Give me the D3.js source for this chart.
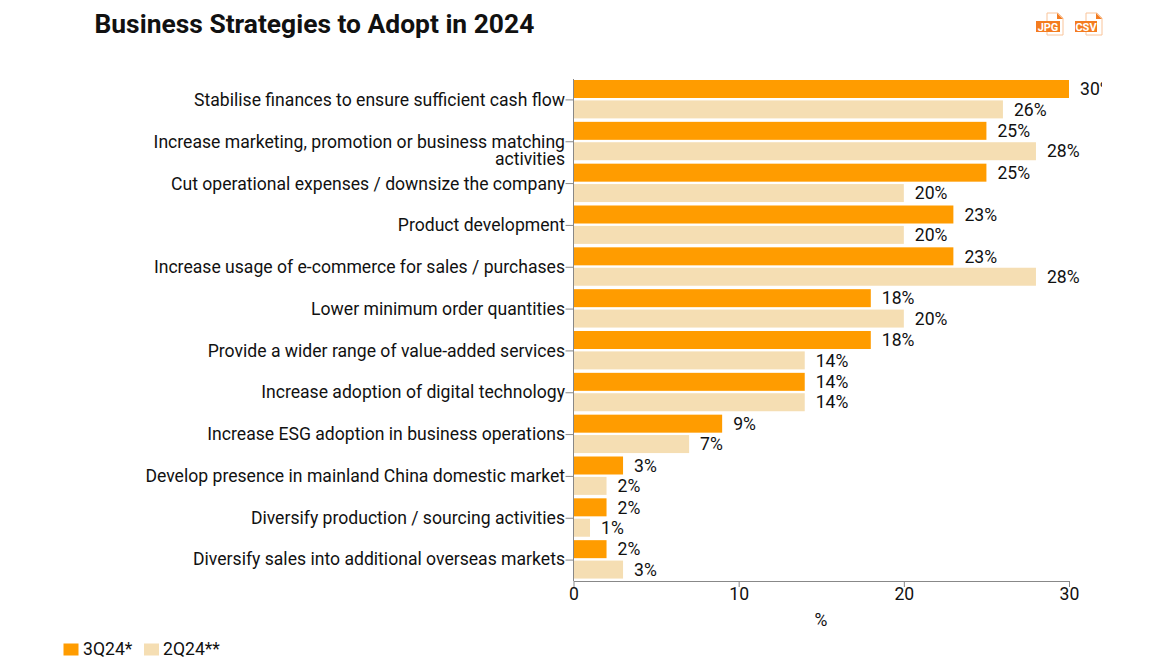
<!DOCTYPE html>
<html><head><meta charset="utf-8">
<script src="https://cdnjs.cloudflare.com/ajax/libs/d3/7.8.5/d3.min.js"></script>
<style>html,body{margin:0;padding:0;background:#fff}svg{display:block}text{font-family:Roboto,sans-serif;fill:#111}</style>
</head><body><div id="c"></div>
<script>
const categories=[["Stabilise finances to ensure sufficient cash flow"],["Increase marketing, promotion or business matching","activities"],["Cut operational expenses / downsize the company"],["Product development"],["Increase usage of e-commerce for sales / purchases"],["Lower minimum order quantities"],["Provide a wider range of value-added services"],["Increase adoption of digital technology"],["Increase ESG adoption in business operations"],["Develop presence in mainland China domestic market"],["Diversify production / sourcing activities"],["Diversify sales into additional overseas markets"]];
const series1=[30,25,25,23,23,18,18,14,9,3,2,2];
const series2=[26,28,20,20,28,20,14,14,7,2,1,3];
const seriesNames=["3Q24*","2Q24**"];
const colors=["#ff9c00","#f5deb3"];
const xTicks=[0,10,20,30];
const title="Business Strategies to Adopt in 2024";
const W=1161,H=667,FS=17.6;
const svg=d3.select("#c").append("svg").attr("width",W).attr("height",H);
svg.append("text").attr("x",94.5).attr("y",33).attr("font-size",26.4).attr("font-weight",700).text(title);

const x=d3.scaleLinear().domain([0,30]).range([573.5,1069]);
const y=d3.scaleBand().domain(d3.range(categories.length)).range([79,581]);
const barH=18;
const defs=svg.append("defs");
defs.append("clipPath").attr("id","clip").append("rect").attr("x",0).attr("y",0).attr("width",1102).attr("height",H);
const g=svg.append("g").attr("clip-path","url(#clip)");
[series1,series2].forEach((s,si)=>{
  const off=si===0?1:21.4;
  g.selectAll(".b"+si).data(s).join("rect")
    .attr("x",x(0)).attr("y",(d,i)=>y(i)+off).attr("width",d=>x(d)-x(0)).attr("height",barH).attr("fill",colors[si]);
  g.selectAll(".l"+si).data(s).join("text")
    .attr("x",d=>x(d)+11).attr("y",(d,i)=>y(i)+off+barH/2+6.2).attr("font-size",FS).text(d=>d+"%");
});
// y axis
const yAxis=svg.append("g");
yAxis.append("line").attr("x1",x(0)).attr("x2",x(0)).attr("y1",79).attr("y2",581).attr("stroke","#888");
categories.forEach((c,i)=>{
  const cy=y(i)+y.bandwidth()/2;
  yAxis.append("line").attr("x1",x(0)-8).attr("x2",x(0)).attr("y1",cy).attr("y2",cy).attr("stroke","#888");
  const t=yAxis.append("text").attr("text-anchor","end").attr("font-size",FS);
  const ly=cy+6.3-i*0.1;
  c.forEach((ln,j)=>t.append("tspan").attr("x",x(0)-8.5).attr("y",ly+j*17).text(ln));
});
// x axis
const xAxis=svg.append("g").attr("transform","translate(0,581)")
  .call(d3.axisBottom(x).tickValues(xTicks).tickSize(6).tickSizeOuter(0));
xAxis.selectAll("path,line").attr("stroke","#888");
xAxis.selectAll("text").attr("font-size",FS).attr("font-family","Roboto,sans-serif").attr("fill","#111").attr("dy","0.72em").attr("y",6.6);
svg.append("text").attr("x",821).attr("y",626).attr("text-anchor","middle").attr("font-size",FS).text("%");
// legend
const lx=[63.5,144],tx=[83,163];
seriesNames.forEach((n,i)=>{
  svg.append("rect").attr("x",lx[i]).attr("y",643.5).attr("width",15).attr("height",12).attr("fill",colors[i]);
  svg.append("text").attr("x",tx[i]).attr("y",655).attr("font-size",FS).text(n);
});
// icons
[["JPG",1036],["CSV",1075]].forEach(([n,ix])=>{
  const k=svg.append("g").attr("transform",`translate(${ix},12)`);
  k.append("path").attr("d","M11 1H22L27 6V23H11Z").attr("fill","#fff").attr("stroke","#f9c49a").attr("stroke-width",1);
  k.append("path").attr("d","M21 1L27 7H21Z").attr("fill","#f47c20");
  k.append("rect").attr("x",0).attr("y",9).attr("width",n==="JPG"?24:22).attr("height",11).attr("fill","#f47c20");
  k.append("text").attr("x",n==="JPG"?12:11).attr("y",18.8).attr("text-anchor","middle").attr("font-size",11).attr("font-weight",700).style("fill","#fff").text(n);
});
</script></body></html>
